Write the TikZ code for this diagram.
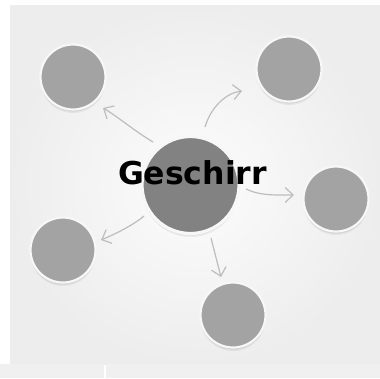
\documentclass[tikz,border=0pt]{standalone}
\usepackage{fontspec}
\setmainfont{DejaVu Sans}
\usetikzlibrary{arrows.meta,calc}
\definecolor{leafgray}{HTML}{A3A3A3}
\definecolor{hubgray}{HTML}{828282}
\definecolor{linkgray}{HTML}{BDBDBD}
\tikzset{
  softshadow/.style={
    preaction={fill=black,fill opacity=.05,draw=none,transform canvas={yshift=-3.5pt},circle},
    preaction={fill=black,fill opacity=.06,draw=none,transform canvas={yshift=-2.2pt},circle},
    preaction={fill=black,fill opacity=.08,draw=none,transform canvas={yshift=-1pt},circle}},
  leaf/.style={circle,inner sep=0pt,minimum size=65pt,fill=leafgray,draw=white!97!black,line width=2.2pt,softshadow},
  hub/.style={circle,inner sep=0pt,minimum size=97pt,fill=hubgray,draw=white!97!black,line width=3.2pt,softshadow},
  link/.style={draw=linkgray,line width=1.2pt,-{Straight Barb[length=8pt,width=15pt,line width=1.2pt]}},
  title/.style={font=\bfseries\fontsize{31.5pt}{34pt}\selectfont,text=black,inner sep=0pt}
}
\begin{document}
\begin{tikzpicture}[x=1pt,y=-1pt]
\useasboundingbox (0,0) rectangle (380,378);
\fill[white] (0,0) rectangle (380,378);
\shade[inner color=white!99!black,outer color=white!93!black] (10,5) rectangle (380,364);
\fill[white!94!black] (0,364) rectangle (104,378);
\fill[white!94!black] (106,364) rectangle (380,378);
\node[hub] (center) at (190.5,185) {};
\node[leaf] (a) at (73,77) {};
\node[leaf] (b) at (289,69) {};
\node[leaf] (c) at (336,199) {};
\node[leaf] (d) at (63,250) {};
\node[leaf] (e) at (233,315) {};
\coordinate (sa) at ($(center)+(-37.5,-43)$);
\coordinate (ta) at ($(a)+(30,31)$);
\coordinate (sb) at ($(center)+(14.5,-58)$);
\coordinate (tb) at ($(b)+(-47,22)$);
\coordinate (sc) at ($(center)+(55.5,4)$);
\coordinate (tc) at ($(c)+(-42,-4)$);
\coordinate (sd) at ($(center)+(-46.5,31)$);
\coordinate (td) at ($(d)+(38,-10)$);
\coordinate (se) at ($(center)+(20.5,53)$);
\coordinate (te) at ($(e)+(-12,-38)$);
\draw[link] (sa) .. controls ($(sa)+(-20,-12)$) and ($(ta)+(14,8)$) .. (ta);
\draw[link] (sb) .. controls ($(sb)+(6,-20)$) and ($(tb)+(-16,2)$) .. (tb);
\draw[link] (sc) .. controls ($(sc)+(14,7)$) and ($(tc)+(-16,0)$) .. (tc);
\draw[link] (sd) .. controls ($(sd)+(-12,10)$) and ($(td)+(14,-6)$) .. (td);
\draw[link] (se) -- (te);
\node[title] (label) at (192.5,173) {Geschirr};
\end{tikzpicture}
\end{document}
